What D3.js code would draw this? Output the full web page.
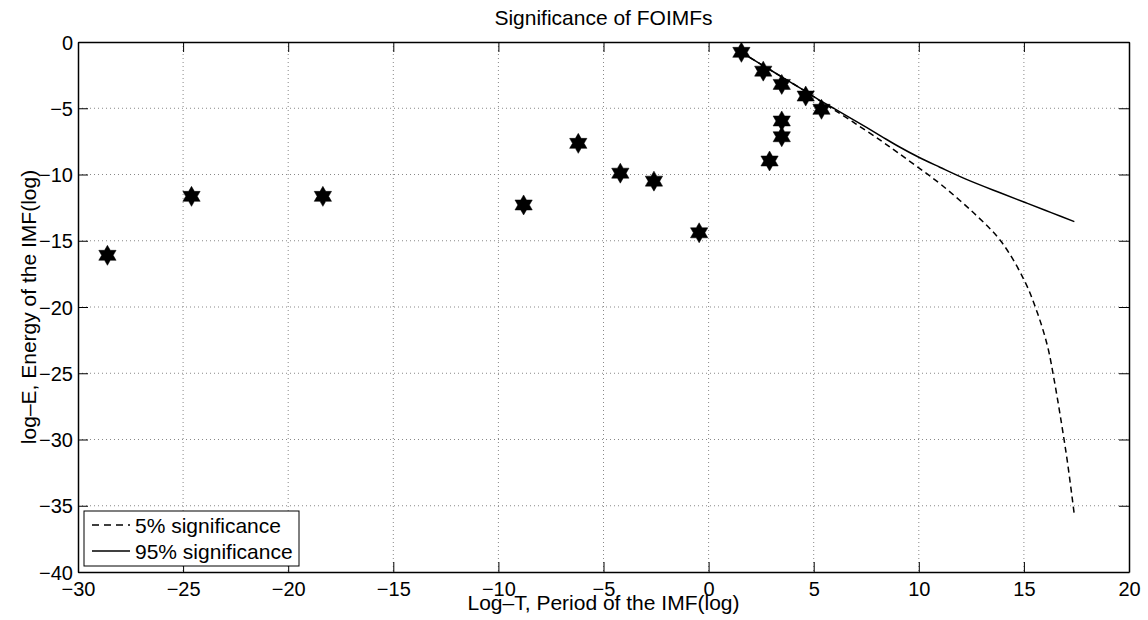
<!DOCTYPE html>
<html>
<head>
<meta charset="utf-8">
<script src="https://cdn.jsdelivr.net/npm/d3@7"></script>
<style>
    body { margin: 0; background: #fff; }
    text { font-family: "Liberation Sans", Arial, sans-serif; fill: #000; }
</style>
</head>
<body>
<script>
// IMF points (log-T, log-E)
var periodLog = [-28.6, -24.6, -18.35, -8.8, -6.2, -4.2, -2.6, -0.45,
                 1.56, 2.6, 3.48, 4.62, 5.37, 3.48, 3.48, 2.9];
var energyLog = [-16.1, -11.65, -11.65, -12.3, -7.65, -9.9, -10.5, -14.4,
                 -0.78, -2.2, -3.2, -4.08, -5.08, -5.96, -7.15, -8.98];

// 5% significance line
var low5X = [1.56, 3, 4.5, 5.4, 6, 7, 8.2, 9, 10, 11.05, 12.63, 13.9, 15.01, 15.65, 16.13, 16.44, 16.76, 17.08, 17.4];
var low5Y = [-0.78, -2.17, -3.62, -4.55, -5.15, -6.17, -7.45, -8.35, -9.5, -10.75, -12.93, -15.02, -17.96, -20.48, -23.0, -25.5, -28.5, -31.8, -35.7];

// 95% significance line
var high95X = [1.56, 3, 4.5, 5.4, 6, 7, 8.2, 9, 10, 11, 12.24, 13.9, 15.17, 16.3, 17.4];
var high95Y = [-0.78, -2.17, -3.62, -4.5, -5.05, -5.97, -7.1, -7.85, -8.7, -9.45, -10.35, -11.4, -12.18, -12.88, -13.56];

// tick values
var xTicks = [-30, -25, -20, -15, -10, -5, 0, 5, 10, 15, 20];
var yTicks = [0, -5, -10, -15, -20, -25, -30, -35, -40];

var legendLabels = ["5% significance", "95% significance"];

// set margin, width and height
var margin = {top: 42, right: 19, bottom: 48, left: 78},
    width = 1148 - margin.left - margin.right,
    height = 620 - margin.top - margin.bottom;

var svg = d3.select("body")
            .append("svg")
            .attr("width", 1148)
            .attr("height", 620);

var g = svg.append("g")
           .attr("transform", "translate(" + margin.left + "," + margin.top + ")");

// scales
var xScale = d3.scaleLinear().domain([-30, 20]).range([0, width]);
var yScale = d3.scaleLinear().domain([-40, 0]).range([height, 0]);

// grid lines (dotted)
g.selectAll(".xgrid")
 .data(xTicks.slice(1, -1))
 .enter()
 .append("line")
 .attr("x1", function(d) { return xScale(d); })
 .attr("x2", function(d) { return xScale(d); })
 .attr("y1", 0)
 .attr("y2", height)
 .attr("stroke", "#888")
 .attr("stroke-dasharray", "1,3");

g.selectAll(".ygrid")
 .data(yTicks.slice(1, -1))
 .enter()
 .append("line")
 .attr("y1", function(d) { return yScale(d); })
 .attr("y2", function(d) { return yScale(d); })
 .attr("x1", 0)
 .attr("x2", width)
 .attr("stroke", "#888")
 .attr("stroke-dasharray", "1,3");

// axes, ticks pointing inwards on all sides
var xAxis = d3.axisBottom(xScale).tickValues(xTicks).tickSizeInner(-10).tickSizeOuter(0).tickPadding(10);
var yAxis = d3.axisLeft(yScale).tickValues(yTicks).tickSizeInner(-10).tickSizeOuter(0).tickPadding(5);

var gx = g.append("g")
          .attr("transform", "translate(0," + height + ")")
          .call(xAxis);
var gy = g.append("g").call(yAxis);

g.append("g").call(d3.axisTop(xScale).tickValues(xTicks).tickSizeInner(-10).tickSizeOuter(0).tickFormat(""));
g.append("g").attr("transform", "translate(" + width + ",0)")
 .call(d3.axisRight(yScale).tickValues(yTicks).tickSizeInner(-10).tickSizeOuter(0).tickFormat(""));

g.selectAll(".domain").attr("stroke", "#000").attr("stroke-width", 1.5);
g.selectAll(".tick line").attr("stroke", "#000");
g.selectAll(".tick text").style("font-size", "20px").attr("fill", "#000");
gy.selectAll(".tick text").attr("dy", "0.36em");

// significance lines
var line = d3.line()
             .x(function(d) { return xScale(d[0]); })
             .y(function(d) { return yScale(d[1]); })
             .curve(d3.curveCatmullRom);

g.append("path")
 .datum(d3.zip(low5X, low5Y))
 .attr("d", line)
 .attr("fill", "none")
 .attr("stroke", "#000")
 .attr("stroke-width", 1.5)
 .attr("stroke-dasharray", "6,4");

g.append("path")
 .datum(d3.zip(high95X, high95Y))
 .attr("d", line)
 .attr("fill", "none")
 .attr("stroke", "#000")
 .attr("stroke-width", 1.5);

// six pointed star like matlab 'h' marker
var hexagram = {
    draw: function(context, size) {
        var R = Math.sqrt(size), r = R / Math.sqrt(3);
        for (var i = 0; i < 12; i++) {
            var a = -Math.PI / 2 + i * Math.PI / 6;
            var rad = (i % 2 === 0) ? R : r;
            if (i === 0) context.moveTo(rad * Math.cos(a), rad * Math.sin(a));
            else context.lineTo(rad * Math.cos(a), rad * Math.sin(a));
        }
        context.closePath();
    }
};

g.selectAll(".star")
 .data(d3.zip(periodLog, energyLog))
 .enter()
 .append("path")
 .attr("class", "star")
 .attr("d", d3.symbol().type(hexagram).size(100))
 .attr("transform", function(d) { return "translate(" + xScale(d[0]) + "," + yScale(d[1]) + ")"; })
 .attr("fill", "#000")
 .attr("stroke", "#000")
 .attr("stroke-width", 0.5);

// title and axis labels
svg.append("text")
   .attr("x", margin.left + width / 2)
   .attr("y", 25)
   .attr("text-anchor", "middle")
   .style("font-size", "21px")
   .text("Significance of FOIMFs");

svg.append("text")
   .attr("x", margin.left + width / 2)
   .attr("y", 610)
   .attr("text-anchor", "middle")
   .style("font-size", "21px")
   .text("Log\u2013T, Period of the IMF(log)");

svg.append("text")
   .attr("transform", "translate(36," + (margin.top + height / 2) + ") rotate(-90)")
   .attr("text-anchor", "middle")
   .style("font-size", "21px")
   .text("log\u2013E, Energy of the IMF(log)");

// legend
var legend = svg.append("g").attr("transform", "translate(84,511)");

legend.append("rect")
      .attr("width", 215)
      .attr("height", 55)
      .attr("fill", "#fff")
      .attr("stroke", "#000");

var entry = legend.selectAll(".entry")
                  .data(legendLabels)
                  .enter()
                  .append("g")
                  .attr("transform", function(d, i) { return "translate(0," + (14 + i * 26) + ")"; });

entry.append("line")
     .attr("x1", 8)
     .attr("x2", 46)
     .attr("stroke", "#000")
     .attr("stroke-width", 1.5)
     .attr("stroke-dasharray", function(d, i) { return i === 0 ? "7,5" : null; });

entry.append("text")
     .attr("x", 51)
     .attr("dy", "0.36em")
     .style("font-size", "21px")
     .text(function(d) { return d; });
</script>
</body>
</html>
